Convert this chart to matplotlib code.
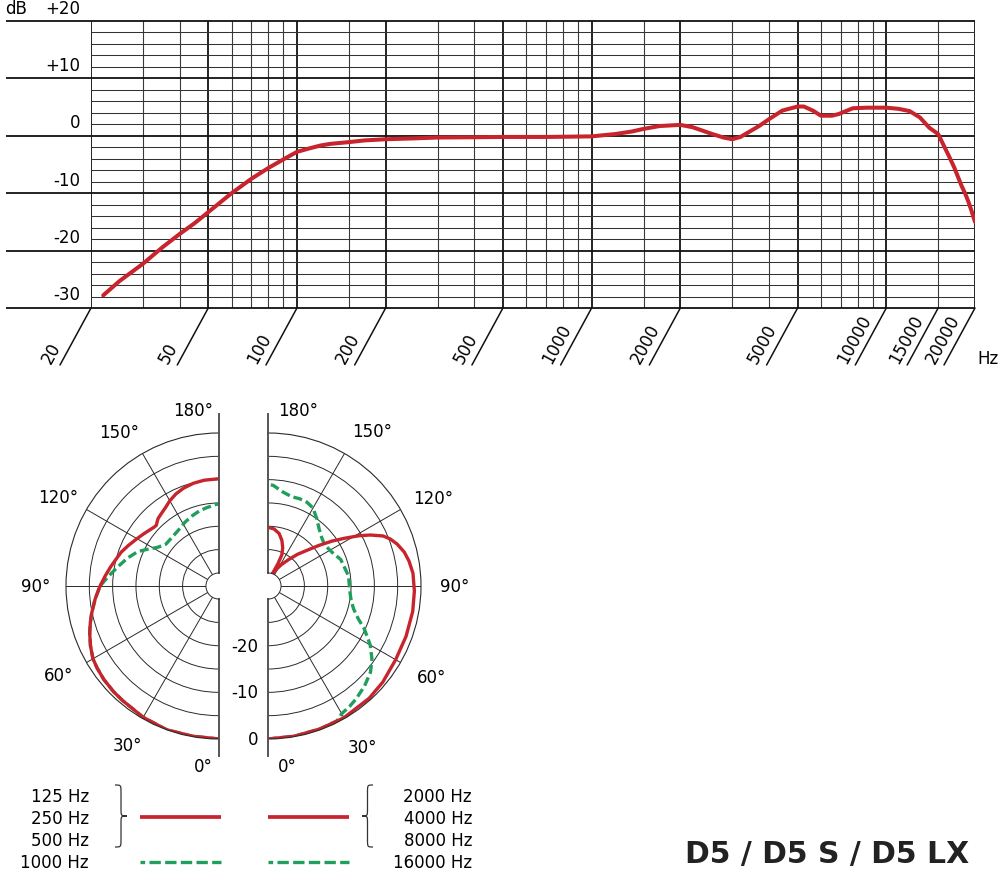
"""
AKG D5 / D5 S / D5 LX - frequency response and polar pattern
"""

import numpy as np
import matplotlib
matplotlib.use('Agg')
import matplotlib.pyplot as plt
from matplotlib.path import Path
from matplotlib.patches import PathPatch

plt.rcParams['font.family'] = ['DejaVu Sans']

# ── Data ───────────────────────────────────────────────────────
freq_hz = [22, 25, 30, 35, 40, 45, 50, 60, 70, 80, 90, 100, 110, 120, 130,
           150, 170, 200, 250, 300, 400, 500, 700, 1000, 1200, 1370, 1500,
           1700, 2000, 2200, 2570, 2800, 3000, 3200, 3350, 3700, 4000, 4440,
           5000, 5250, 5630, 6000, 6540, 6900, 7700, 8600, 10000, 11000,
           12000, 13000, 14000, 15000, 16300, 17000, 18000, 18500, 19000,
           19500, 20000]
level_db = [-27.8, -25.3, -22.3, -19.4, -17.1, -15.2, -13.3, -10.0, -7.5, -5.6,
            -4.1, -2.8, -2.2, -1.7, -1.4, -1.1, -0.8, -0.6, -0.45, -0.3, -0.25,
            -0.2, -0.2, -0.1, 0.3, 0.75, 1.2, 1.7, 1.9, 1.5, 0.3, -0.3, -0.6,
            -0.2, 0.4, 1.7, 2.9, 4.4, 5.1, 5.1, 4.4, 3.5, 3.5, 3.8, 4.8, 4.9,
            4.9, 4.7, 4.3, 3.2, 1.4, 0.3, -3.5, -5.5, -8.7, -10.0, -11.5,
            -13.2, -15.0]

major_freqs = [20, 50, 100, 200, 500, 1000, 2000, 5000, 10000, 20000]
minor_freqs = [30, 40, 60, 70, 80, 90, 150, 300, 400, 600, 700, 800, 900,
               1500, 3000, 4000, 6000, 7000, 8000, 9000, 15000]
tick_freqs = [20, 50, 100, 200, 500, 1000, 2000, 5000, 10000, 15000, 20000]
tick_labels = ['20', '50', '100', '200', '500', '1000', '2000', '5000',
               '10000', '15000', '20000']
db_levels = [20, 10, 0, -10, -20, -30]
db_labels = ['+20', '+10', '0', '-10', '-20', '-30']

# polar, left half: 125 / 250 / 500 Hz (red) and 1000 Hz (green)
low_deg = [0, 10, 20, 30, 40, 45, 51, 56, 60, 65, 70, 74, 78, 84, 90, 95,
           100, 104, 109, 114, 120, 125, 129, 132, 134, 136, 138, 142, 146,
           150, 155, 160, 166, 172, 180]
low_db = [0, -0.1, 0, -0.3, -0.7, -0.8, -1.0, -1.3, -1.6, -2.4, -3.3, -4.1,
          -4.9, -6.1, -7.3, -8.3, -9.2, -9.9, -10.6, -11.5, -12.5, -13.2,
          -13.7, -14.0, -14.1, -13.7, -13.3, -12.9, -12.4, -11.7, -11.0,
          -10.5, -10.1, -9.9, -9.8]
k1_deg = [0, 10, 20, 30, 40, 45, 51, 56, 60, 65, 70, 74, 78, 84, 90, 95,
          101, 107, 113, 117, 122, 128, 136, 144, 152, 159, 165, 171, 178, 180]
k1_db = [0, -0.1, 0, -0.3, -0.7, -0.8, -1.0, -1.3, -1.6, -2.4, -3.3, -4.1,
         -4.9, -6.1, -7.3, -9.0, -10.8, -12.3, -13.9, -15.5, -17.2, -18.3,
         -18.3, -18.0, -17.3, -16.7, -16.2, -15.8, -15.3, -15.2]

# polar, right half: 2000 / 4000 / 8000 Hz (red) and 16000 Hz (green)
high_deg = [0, 10, 20, 30, 42, 50, 60, 70, 80, 88, 95, 100, 104, 108, 111,
            113.5, 116.5, 119, 122, 125, 128.5, 132, 137, 142, 148, 154, 160,
            156, 156, 159, 163, 168, 174, 180]
high_db = [0, -0.1, -0.2, -0.2, -0.4, -0.7, -1.2, -1.3, -1.3, -1.4, -1.6,
           -2.1, -2.7, -3.7, -4.7, -5.9, -8.3, -10.6, -13.5, -16.0, -18.8,
           -21.2, -23.5, -25.6, -27.4, -28.9, -30.0, -27.5, -25.5, -24.0,
           -22.6, -21.3, -20.5, -20.2]
k16_deg = [0, 10, 20, 27, 30, 34, 38, 44, 50, 55, 60, 66, 70, 75, 80, 86,
           97, 110, 118, 126, 132, 138, 144, 150, 155, 160, 165, 171, 177, 180]
k16_db = [0, -0.1, -0.2, -0.3, -1.2, -1.6, -2.1, -3.0, -4.1, -5.6, -7.5,
          -10.2, -12.2, -13.8, -14.7, -15.2, -15.4, -16.2, -17.3, -17.8,
          -17.3, -16.4, -15.0, -13.5, -13.0, -12.9, -13.0, -12.4, -11.2, -11.0]

legend_left = ['125 Hz', '250 Hz', '500 Hz', '1000 Hz']
legend_right = ['2000 Hz', '4000 Hz', '8000 Hz', '16000 Hz']
title = 'D5 / D5 S / D5 LX'

RED = '#c8242d'
GREEN = '#1f9e5c'
GRID = '#2a2a2a'
FS = 12

# ── Figure (pixel helpers) ─────────────────────────────────────
W, H, DPI = 1000, 878, 100
PT = 72 / DPI
fig = plt.figure(figsize=(W / DPI, H / DPI), dpi=DPI)

ov = fig.add_axes([0, 0, 1, 1], zorder=-1)
ov.set_xlim(0, W)
ov.set_ylim(H, 0)
ov.axis('off')

# ── Frequency response ─────────────────────────────────────────
X0, X1, Y0, Y1 = 91, 975, 22, 309
ax = fig.add_axes([X0 / W, 1 - Y1 / H, (X1 - X0) / W, (Y1 - Y0) / H])
ax.set_xscale('log')
ax.set_xlim(20, 20000)
ax.set_ylim(-30, 20)
ax.tick_params(which='both', length=0, labelbottom=False, labelleft=False)
for s in ax.spines.values():
    s.set_visible(False)

for f in minor_freqs:
    ax.axvline(f, color='#3a3a3a', lw=0.8, zorder=1)
for f in major_freqs:
    ax.axvline(f, color='#111111', lw=1.3, zorder=1)
for d in range(-28, 20, 2):
    if d % 10:
        ax.axhline(d, color='#333333', lw=0.75, zorder=1)
ext = (6 - X0) / (X1 - X0)
ax.hlines(db_levels, ext, 1, transform=ax.get_yaxis_transform(),
          color='#111111', lw=1.3, clip_on=False, zorder=1)

for d, lbl in zip(db_levels, db_labels):
    ax.annotate(lbl, xy=(0, d), xycoords=ax.get_yaxis_transform(),
                xytext=(-11 * PT, 13.5 * PT), textcoords='offset points',
                ha='right', va='center', fontsize=FS)
ax.annotate('dB', xy=(0, 20), xycoords=ax.get_yaxis_transform(),
            xytext=((5 - X0) * PT, 13.5 * PT), textcoords='offset points',
            ha='left', va='center', fontsize=FS)

for f, lbl in zip(tick_freqs, tick_labels):
    ax.annotate('', xy=(f, 0), xycoords=('data', 'axes fraction'),
                xytext=(-31 * PT, -57 * PT), textcoords='offset points',
                arrowprops=dict(arrowstyle='-', color='#111111', lw=1.1,
                                shrinkA=0, shrinkB=0))
    ax.annotate(lbl, xy=(f, 0), xycoords=('data', 'axes fraction'),
                xytext=(-37 * PT, -58 * PT), textcoords='offset points',
                rotation=61.5, rotation_mode='anchor',
                ha='left', va='bottom', fontsize=FS)
ov.text(977, 359, 'Hz', ha='left', va='center', fontsize=FS)

ax.plot(freq_hz, level_db, color=RED, lw=2.9, solid_capstyle='round',
        solid_joinstyle='round', zorder=3)

# ── Polar patterns ─────────────────────────────────────────────
R, CY = 153, 587


def half_polar(cx, side):
    size = 2 * R
    left = cx - (0.75 if side == 'left' else 0.25) * size
    bottom = (H - CY) - R
    pa = fig.add_axes([left / W, bottom / H, size / W, size / H],
                      projection='polar')
    pa.set_theta_zero_location('S')
    pa.set_theta_direction(-1 if side == 'left' else 1)
    pa.set_thetamin(0)
    pa.set_thetamax(180)
    pa.set_ylim(-30, 0)
    pa.set_rorigin(-32.8)
    pa.set_yticks([-25, -20, -15, -10, -5])
    pa.set_yticklabels([])
    pa.set_xticks(np.deg2rad([30, 60, 90, 120, 150]))
    pa.set_xticklabels([])
    pa.tick_params(length=0)
    pa.grid(True, color=GRID, lw=0.7)
    pa.spines['polar'].set(color=GRID, lw=0.8)
    pa.spines['inner'].set(color=GRID, lw=0.7)
    for k in ('start', 'end'):
        pa.spines[k].set(color='#555555', lw=1.4)
    pa.patch.set_alpha(0)
    # axis line runs a little past the outer ring
    pa.plot([0, 0], [0, 3.7], color='#555555', lw=1.4, clip_on=False)
    pa.plot([np.pi, np.pi], [0, 4.1], color='#555555', lw=1.4, clip_on=False)
    return pa


dash = (0, (2.7, 1.2))

pl = half_polar(219, 'left')
pl.plot(np.deg2rad(k1_deg), k1_db, color=GREEN, lw=2.4, ls=dash,
        dash_joinstyle='round')
pl.plot(np.deg2rad(low_deg), low_db, color=RED, lw=2.4,
        solid_joinstyle='round')
for a, lbl in zip([30, 61, 90, 119, 147], ['30°', '60°', '90°', '120°', '150°']):
    pl.text(np.deg2rad(a), 6.6, lbl, ha='center', va='center', fontsize=FS)
pl.annotate('180°', xy=(np.pi, 0), xytext=(-6 * PT, 23 * PT),
            textcoords='offset points', ha='right', va='center', fontsize=FS)
pl.annotate('0°', xy=(0, 0), xytext=(-6 * PT, -27 * PT),
            textcoords='offset points', ha='right', va='center', fontsize=FS)

pr = half_polar(268, 'right')
pr.plot(np.deg2rad(k16_deg), k16_db, color=GREEN, lw=2.4, ls=dash,
        dash_joinstyle='round')
pr.plot(np.deg2rad(high_deg), high_db, color=RED, lw=2.4,
        solid_joinstyle='round')
for a, lbl in zip([30.5, 61, 90, 118, 146], ['30°', '60°', '90°', '120°', '150°']):
    pr.text(np.deg2rad(a), 7.3, lbl, ha='center', va='center', fontsize=FS)
pr.annotate('180°', xy=(np.pi, 0), xytext=(10 * PT, 23 * PT),
            textcoords='offset points', ha='left', va='center', fontsize=FS)
pr.annotate('0°', xy=(0, 0), xytext=(10 * PT, -27 * PT),
            textcoords='offset points', ha='left', va='center', fontsize=FS)
for r, lbl in zip([-20, -10, 0], ['-20', '-10', '0']):
    pr.annotate(lbl, xy=(0, r), xytext=(-10 * PT, 0),
                textcoords='offset points', ha='right', va='center',
                fontsize=FS)

# ── Legend ─────────────────────────────────────────────────────


def brace(x, y0, y1, w):
    a, c, ym = 0.5 * w, 0.12 * (y1 - y0), (y0 + y1) / 2
    verts = [(x, y0), (x + a, y0), (x + a, y0), (x + a, y0 + c),
             (x + a, ym - c),
             (x + a, ym), (x + a, ym), (x + w, ym),
             (x + a, ym), (x + a, ym), (x + a, ym + c),
             (x + a, y1 - c),
             (x + a, y1), (x + a, y1), (x, y1)]
    codes = [Path.MOVETO] + [Path.CURVE4] * 3 + [Path.LINETO] + \
        [Path.CURVE4] * 6 + [Path.LINETO] + [Path.CURVE4] * 3
    ov.add_patch(PathPatch(Path(verts, codes), fc='none', ec='#333333',
                           lw=0.9))


rows = [797, 819, 841, 863]
for y, lbl in zip(rows, legend_left):
    ov.text(89, y, lbl, ha='right', va='center', fontsize=FS)
for y, lbl in zip(rows, legend_right):
    ov.text(472, y, lbl, ha='right', va='center', fontsize=FS)
brace(115, 786, 848, 12)
brace(373, 786, 848, -11)
for x0, x1 in [(140, 221), (268, 349)]:
    ov.plot([x0, x1], [818, 818], color=RED, lw=2.7, solid_capstyle='butt')
    ov.plot([x0, x1], [863, 863], color=GREEN, lw=2.4,
            ls=(2, (3.4, 1.3)))

ov.text(969, 863, title, ha='right', va='baseline', fontsize=21.5,
        fontweight='bold', color='#222222')

fig.savefig('out.png', dpi=DPI)
